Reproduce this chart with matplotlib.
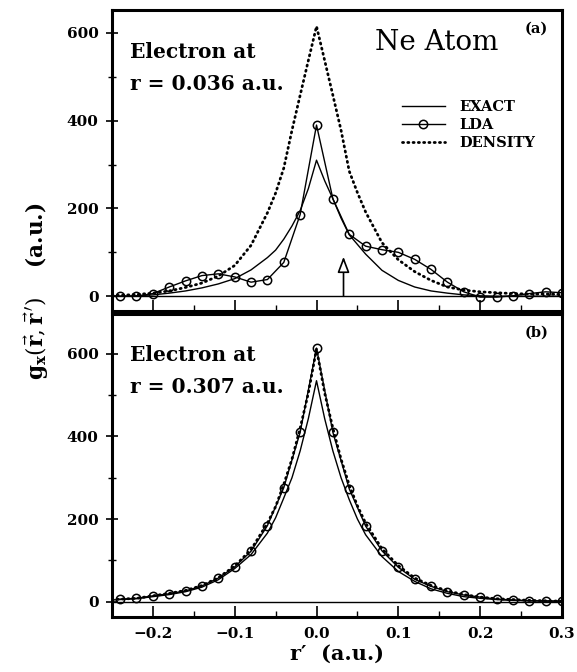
import matplotlib
matplotlib.use("Agg")
import matplotlib.pyplot as plt
from matplotlib.ticker import MultipleLocator

# ---------------- data ----------------
x_curve = [-0.25, -0.24, -0.22, -0.20, -0.18, -0.16, -0.14, -0.12, -0.10, -0.08,
           -0.06, -0.05, -0.04, -0.03, -0.02, -0.01, 0.0, 0.01, 0.02, 0.03, 0.04,
           0.05, 0.06, 0.08, 0.10, 0.12, 0.14, 0.16, 0.18, 0.20, 0.22, 0.24, 0.26,
           0.28, 0.30]
x_lda = [-0.24, -0.22, -0.20, -0.18, -0.16, -0.14, -0.12, -0.10, -0.08, -0.06,
         -0.04, -0.02, 0.0, 0.02, 0.04, 0.06, 0.08, 0.10, 0.12, 0.14, 0.16, 0.18,
         0.20, 0.22, 0.24, 0.26, 0.28, 0.30]

# panel (a): electron at r = 0.036 a.u.
exact_a = [0, 0, 1, 3, 7, 12, 19, 28, 40, 60, 88, 105, 130, 160, 195, 245, 310,
           263, 222, 178, 140, 118, 96, 59, 36, 21, 12, 7, 3, 1, 0, 0, 0, 0, 0]
density_a = [2, 2, 4, 7, 12, 20, 30, 46, 70, 116, 190, 235, 292, 378, 458, 537,
             615, 537, 458, 378, 285, 236, 192, 122, 83, 56, 36, 21, 14, 10, 8,
             6, 5, 5, 4]
lda_a = [0, 0, 6, 21, 35, 47, 51, 44, 32, 38, 77, 186, 390, 222, 141, 114, 106,
         100, 84, 61, 32, 10, -2, -2, 1, 6, 10, 8]

# panel (b): electron at r = 0.307 a.u.
exact_b = [4, 5, 7, 12, 17, 24, 35, 53, 80, 114, 166, 203, 251, 300, 365, 443,
           535, 443, 365, 300, 247, 200, 162, 109, 73, 49, 31, 20, 12, 8, 5, 3,
           2, 1, 1]
density_b = [5, 6, 8, 14, 20, 27, 39, 58, 86, 126, 190, 230, 284, 345, 420, 505,
             612, 505, 420, 345, 282, 232, 190, 128, 87, 57, 39, 26, 17, 11, 7,
             5, 3, 2, 1]
lda_b = [6, 8, 14, 19, 26, 38, 57, 84, 122, 184, 276, 410, 614, 410, 273, 183,
         123, 83, 54, 37, 24, 16, 11, 6, 4, 2, 2, 1]

x_ticks = [-0.2, -0.1, 0.0, 0.1, 0.2, 0.3]
x_ticklabels = ["\u22120.2", "\u22120.1", "0.0", "0.1", "0.2", "0.3"]
y_ticks = [0, 200, 400, 600]
y_ticklabels = ["0", "200", "400", "600"]
arrow_x = 0.033
arrow_top = 90

# ---------------- style ----------------
plt.rcParams['font.family'] = ['DejaVu Serif']
plt.rcParams['mathtext.fontset'] = 'dejavuserif'

fig = plt.figure(figsize=(5.77, 6.72), dpi=100)
ax_a = fig.add_axes([0.194, 0.537, 0.780, 0.448])
ax_b = fig.add_axes([0.194, 0.082, 0.780, 0.451])

dot_style = dict(color='black', lw=2.0, linestyle=(0, (0.4, 1.5)),
                 dash_capstyle='round')
solid_style = dict(color='black', lw=1.0)
lda_style = dict(color='black', lw=1.0, marker='o', markersize=6.0,
                 markerfacecolor='none', markeredgewidth=1.1)

panels = [
    (ax_a, exact_a, lda_a, density_a, (-34, 652), "r = 0.036 a.u.", "(a)", 0.84, 0.734),
    (ax_b, exact_b, lda_b, density_b, (-37, 697), "r = 0.307 a.u.", "(b)", 0.845, 0.738),
]

for ax, ex, ld, de, ylim, rtxt, tag, y1, y2 in panels:
    ax.axhline(0, color='black', lw=1.0, zorder=1)
    ax.plot(x_curve, ex, label='EXACT', **solid_style)
    ax.plot(x_lda, ld, label='LDA', **lda_style)
    ax.plot(x_curve, de, label='DENSITY', **dot_style)
    ax.set_xlim(-0.25, 0.3)
    ax.set_ylim(*ylim)
    ax.set_xticks(x_ticks)
    ax.set_yticks(y_ticks)
    ax.set_yticklabels(y_ticklabels)
    ax.xaxis.set_minor_locator(MultipleLocator(0.05))
    ax.yaxis.set_minor_locator(MultipleLocator(100))
    ax.tick_params(axis='x', which='major', direction='in', length=8, width=1.2,
                   top=False, pad=7, labelsize=11)
    ax.tick_params(axis='x', which='minor', direction='in', length=4.5,
                   width=1.0, top=False)
    ax.tick_params(axis='y', which='major', direction='inout', length=9,
                   width=1.2, right=False, pad=5, labelsize=11)
    ax.tick_params(axis='y', which='minor', direction='inout', length=6,
                   width=1.0, right=False)
    for lbl in ax.get_yticklabels() + ax.get_xticklabels():
        lbl.set_fontweight('bold')
    for sp in ax.spines.values():
        sp.set_linewidth(2.2)
    ax.text(0.04, y1, "Electron at",
            transform=ax.transAxes, fontsize=14.5, fontweight='bold',
            ha='left', va='baseline')
    ax.text(0.04, y2, rtxt,
            transform=ax.transAxes, fontsize=14.5, fontweight='bold',
            ha='left', va='baseline')
    ax.text(0.969, 0.926, tag, transform=ax.transAxes, fontsize=10.5,
            fontweight='bold', ha='right', va='baseline')

ax_a.set_xticklabels([])
ax_b.set_xticklabels(x_ticklabels)
for lbl in ax_b.get_xticklabels():
    lbl.set_fontweight('bold')

ax_a.text(0.584, 0.867, "Ne Atom", transform=ax_a.transAxes, fontsize=20,
          ha='left', va='baseline')

leg = ax_a.legend(loc='upper left', bbox_to_anchor=(0.645, 0.700),
                  frameon=False, handlelength=2.9, handletextpad=1.0,
                  labelspacing=0.25, borderpad=0, borderaxespad=0,
                  prop={'weight': 'bold', 'size': 10.5})

ax_a.annotate('', xy=(arrow_x, arrow_top), xytext=(arrow_x, 0),
              arrowprops=dict(arrowstyle='-|>,head_length=0.95,head_width=0.36',
                              fc='white', ec='black', lw=1.2,
                              shrinkA=0, shrinkB=0))

ax_b.set_xlabel("r\u2032  (a.u.)", fontsize=15, fontweight='bold', labelpad=2)
fig.text(0.064, 0.567,
         r"$\mathbf{g}_{\mathbf{x}}(\vec{\mathbf{r}},\vec{\mathbf{r}}^{\,\prime})$    (a.u.)",
         rotation=90, fontsize=15.5, fontweight='bold', ha='center', va='center')

fig.savefig("out.png", dpi=100)
